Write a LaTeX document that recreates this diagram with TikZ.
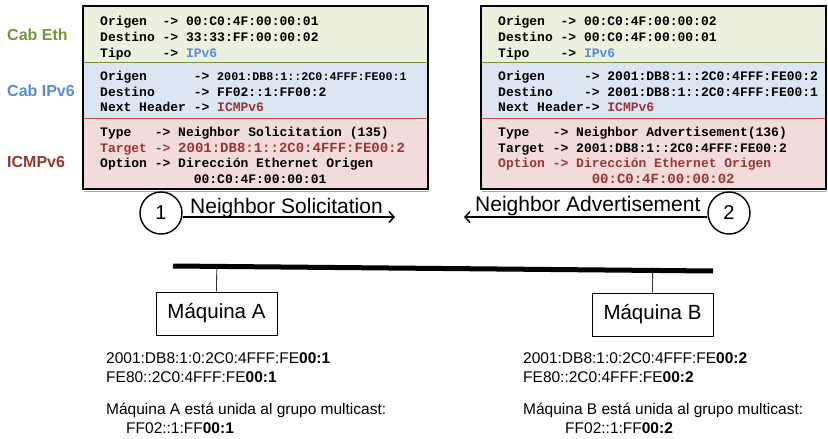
\documentclass[tikz,border=0pt]{standalone}
\usepackage{fontspec}
\setmainfont{Liberation Sans}
\newfontfamily\pktfont{Liberation Mono}
\usetikzlibrary{calc,positioning,arrows.meta}

\definecolor{ethgreen}{RGB}{119,147,60}
\definecolor{ipblue}{RGB}{85,142,213}
\definecolor{icmpred}{RGB}{149,55,53}
\definecolor{ethfill}{RGB}{235,241,222}
\definecolor{ipfill}{RGB}{220,230,242}
\definecolor{icmpfill}{RGB}{242,220,219}
\definecolor{icmpline}{RGB}{192,80,77}

\newcommand{\pktsize}[1]{\fontsize{#1}{15.6}\selectfont}

\begin{document}
\begin{tikzpicture}[x=1pt,y=-1pt,
  pkt/.style={anchor=north west,inner sep=0pt,align=left,font=\pktfont\bfseries\pktsize{13}},
  hdr/.style={anchor=west,inner sep=0pt,font=\bfseries\fontsize{16}{19}\selectfont},
  addr/.style={anchor=base west,inner sep=0pt,font=\fontsize{15.5}{19}\selectfont},
  msg/.style={anchor=base west,inner sep=0pt,font=\fontsize{21}{25}\selectfont},
  num/.style={draw,circle,line width=1.4pt,minimum size=42pt,inner sep=0pt,font=\fontsize{20}{24}\selectfont},
  host/.style={draw,line width=0.8pt,minimum width=121pt,minimum height=43pt,inner sep=0pt,font=\fontsize{20.5}{24}\selectfont},
  flow/.style={line width=1.5pt,-{Straight Barb[length=5pt,width=11pt,line width=1.5pt]}}]
\useasboundingbox (0,0) rectangle (828,439);

% left frame
\fill[ethfill] (83,6) rectangle (428,62);
\fill[ipfill] (83,62) rectangle (428,118);
\fill[icmpfill] (83,118) rectangle (428,189);
\draw[ethgreen] (83,62) -- (428,62);
\draw[icmpline] (83,118) -- (428,118);
\draw[icmpline!60] (84,191.5) -- (429,191.5);
\draw[line width=2.5pt] (83,6) rectangle (428,189);

% right frame
\fill[ethfill] (481,6) rectangle (826,62);
\fill[ipfill] (481,62) rectangle (826,118);
\fill[icmpfill] (481,118) rectangle (826,189);
\draw[ethgreen] (481,62) -- (826,62);
\draw[icmpline] (481,118) -- (826,118);
\draw[icmpline!60] (482,191.5) -- (827,191.5);
\draw[line width=2.5pt] (481,6) rectangle (826,189);

\node[hdr,text=ethgreen] (cabEth) at (7,35) {Cab Eth};
\node[hdr,text=ipblue] (cabIp) at (7,91) {Cab IPv6};
\node[hdr,text=icmpred] (cabIcmp) at (7,162) {ICMPv6};

\node[pkt] (ethA) at (100,16.3) {Origen~~-> 00:C0:4F:00:00:01\\
Destino -> 33:33:FF:00:00:02\\
Tipo~~~~-> \textcolor{ipblue}{IPv6}};
\node[pkt] (ipA) at (100,70.8) {Origen~~~~~~-> {\pktsize{11.7}2001:DB8:1::2C0:4FFF:FE00:1}\\
Destino~~~~~-> FF02::1:FF00:2\\
Next Header -> \textcolor{icmpred}{ICMPv6}};
\node[pkt] (icmpA) at (100,127) {Type~~~-> Neighbor Solicitation (135)\\
\textcolor{icmpred}{Target -> {\pktsize{14}2001:DB8:1::2C0:4FFF:FE00:2}}\\
Option -> Dirección Ethernet Origen\\
\hspace*{93.6pt}00:C0:4F:00:00:01};

\node[pkt] (ethB) at (498,16.3) {Origen~~-> 00:C0:4F:00:00:02\\
Destino -> 00:C0:4F:00:00:01\\
Tipo~~~~-> \textcolor{ipblue}{IPv6}};
\node[pkt] (ipB) at (498,70.8) {Origen~~~~~-> 2001:DB8:1::2C0:4FFF:FE00:2\\
Destino~~~~-> 2001:DB8:1::2C0:4FFF:FE00:1\\
Next Header-> \textcolor{icmpred}{ICMPv6}};
\node[pkt] (icmpB) at (498,127) {Type~~~-> Neighbor Advertisement(136)\\
Target -> 2001:DB8:1::2C0:4FFF:FE00:2\\
\textcolor{icmpred}{Option -> Dirección Ethernet Origen}\\
\hspace*{93.6pt}\textcolor{icmpred}{\pktsize{14}00:C0:4F:00:00:02}};

% messages
\node[num] (one) at (161,213) {1};
\node[num] (two) at (729,213) {2};
\coordinate (nsEnd) at (395,217);
\coordinate (naEnd) at (464,217);
\draw[flow] (one.east |- nsEnd) -- (nsEnd);
\draw[flow] (two.west |- naEnd) -- (naEnd);
\node[msg] (nsTxt) at (190,213) {Neighbor Solicitation};
\node[msg] (naTxt) at (475,211) {Neighbor Advertisement};

% link
\coordinate (busL) at (173,266);
\coordinate (busR) at (713,271);
\draw[line width=5pt] (busL) -- (busR);
\node[host] (maqA) at (216.5,313.5) {Máquina A};
\node[host] (maqB) at (652.5,314.5) {Máquina B};
\draw[line width=0.8pt,black!80] (maqA.north) -- ($(busL)!(maqA.north)!(busR)$);
\draw[line width=0.8pt,black!80] (maqB.north) -- ($(busL)!(maqB.north)!(busR)$);

\node[addr] (gA) at (106,363) {2001:DB8:1:0:2C0:4FFF:FE\textbf{00:1}};
\node[addr] (lA) at (106,382) {FE80::2C0:4FFF:FE\textbf{00:1}};
\node[addr] (mA) at (106,414) {Máquina A está unida al grupo multicast:};
\node[addr] (sA) at (126,433) {FF02::1:FF\textbf{00:1}};

\node[addr] (gB) at (523,363) {2001:DB8:1:0:2C0:4FFF:FE\textbf{00:2}};
\node[addr] (lB) at (523,382) {FE80::2C0:4FFF:FE\textbf{00:2}};
\node[addr] (mB) at (523,414) {Máquina B está unida al grupo multicast:};
\node[addr] (sB) at (565,433) {FF02::1:FF\textbf{00:2}};
\end{tikzpicture}
\end{document}
